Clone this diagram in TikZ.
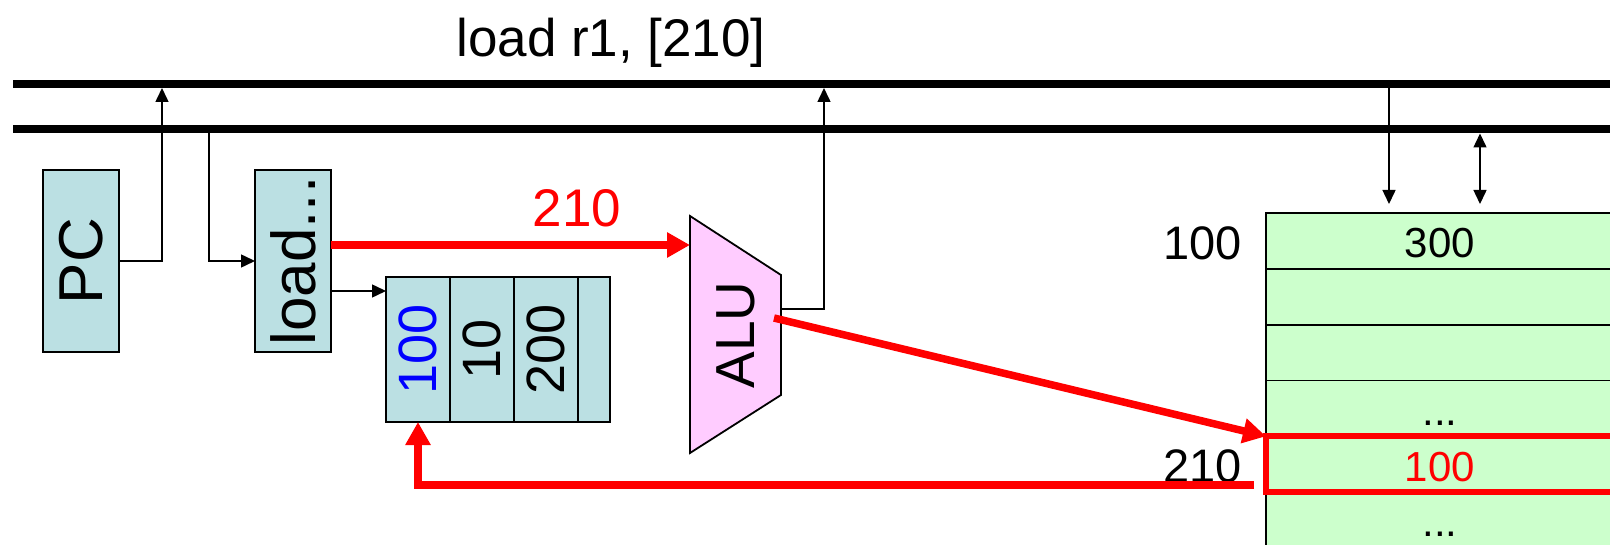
\documentclass[tikz,border=0pt]{standalone}
\usepackage{fontspec}
\setmainfont{Liberation Sans}
\usetikzlibrary{arrows.meta,calc}
\definecolor{regblue}{RGB}{187,224,227}
\definecolor{alupink}{RGB}{255,204,255}
\definecolor{memgreen}{RGB}{204,255,204}
\begin{document}
\begin{tikzpicture}[x=1pt,y=-1pt,
  box/.style={draw=black, line width=1.8pt, fill=regblue, inner sep=0pt, outer sep=0pt},
  memcell/.style={draw=black, line width=1.8pt, fill=memgreen, minimum width=348pt, minimum height=55.8pt, inner sep=0pt, outer sep=0pt, text height=33.6pt, text depth=0pt, font=\fontsize{42}{42}\selectfont},
  arr/.style={line width=1.5pt, -{Triangle[length=14pt,width=13pt]}},
  dblarr/.style={line width=1.5pt, {Triangle[length=14pt,width=13pt]}-{Triangle[length=14pt,width=13pt]}},
  redarr/.style={draw=red, line width=7.5pt, -{Triangle[length=23pt,width=24pt]}},
  bus/.style={line width=8pt},
  bigtext/.style={font=\fontsize{53}{53}\selectfont}]
\useasboundingbox (0,0) rectangle (1610,545);
\clip (0,0) rectangle (1610,545);

% buses
\draw[bus] (13,84) -- (1610,84);
\draw[bus] (13,129.5) -- (1610,129.5);

% title
\node[bigtext, anchor=base] (title) at (611,57) {load r1, [210]};

% PC and instruction register
\node[box, minimum width=76pt, minimum height=182pt, font=\fontsize{62}{62}\selectfont] (pc) at (81,261) {\rotatebox{90}{PC}};
\node[box, minimum width=76pt, minimum height=182pt, font=\fontsize{62}{62}\selectfont] (load) at (293,261) {\rotatebox{90}{load...}};

% register file
\begin{scope}[every node/.style={box, minimum height=145pt, font=\fontsize{54}{54}\selectfont}]
\node[minimum width=64pt] (r0) at (418,349.5) {\rotatebox{90}{\textcolor{blue}{100}}};
\node[minimum width=64pt] (r1) at (482,349.5) {\rotatebox{90}{10}};
\node[minimum width=64pt] (r2) at (546,349.5) {\rotatebox{90}{200}};
\node[minimum width=32pt] (r3) at (594,349.5) {};
\end{scope}

% ALU
\draw[line width=1.8pt, fill=alupink] (690,216) coordinate (aluTL) -- (781,275) coordinate (aluTR)
  -- (781,395) coordinate (aluBR) -- (690,453) coordinate (aluBL) -- cycle;
\node[font=\fontsize{55}{55}\selectfont] (alu) at (736,335) {\rotatebox{90}{ALU}};

% memory
\node[memcell] (m1) at (1440,241) {300};
\node[memcell] (m2) at (1440,296.8) {};
\node[memcell] (m3) at (1440,352.6) {};
\node[memcell] (m4) at (1440,408.4) {...};
\node[memcell, text=red] (m5) at (1440,464.2) {100};
\node[memcell] (m6) at (1440,520) {...};
\node[anchor=base east, font=\fontsize{47}{47}\selectfont] (a100) at (1245,260) {100};
\node[anchor=base east, font=\fontsize{47}{47}\selectfont] (a210) at (1245,482) {210};
\draw[red, line width=6pt] (m5.north west) rectangle (m5.south east);

% coordinates
\coordinate (pcup) at (162,88);
\coordinate (busdown) at (209,133.5);
\coordinate (y245) at (0,245);
\coordinate (y291) at (0,291);
\coordinate (y309) at (0,309);
\coordinate (aluup) at (824,88);
\coordinate (aluout) at (774,318);
\coordinate (ret) at (1254,485);
\coordinate (md1top) at (1389,84);
\coordinate (md1bot) at (1389,204);
\coordinate (md2top) at (1480,133.5);
\coordinate (md2bot) at (1480,204);

% black connectors
\draw[arr] (pc.east) -| (pcup);
\draw[arr] (busdown) |- (load.west);
\draw[arr] (load.east |- y291) -- (r0.west |- y291);
\draw[arr] (aluTR |- y309) -| (aluup);
\draw[arr] (md1top) -- (md1bot);
\draw[dblarr] (md2top) -- (md2bot);

% red connectors
\draw[redarr] (load.east |- y245) -- (aluTL |- y245);
\node[bigtext, text=red, anchor=base] (lbl210) at (577,227) {210};
\draw[redarr] (aluout) -- (m5.north west);
\draw[redarr] (ret) -| (r0.south);
\end{tikzpicture}
\end{document}
